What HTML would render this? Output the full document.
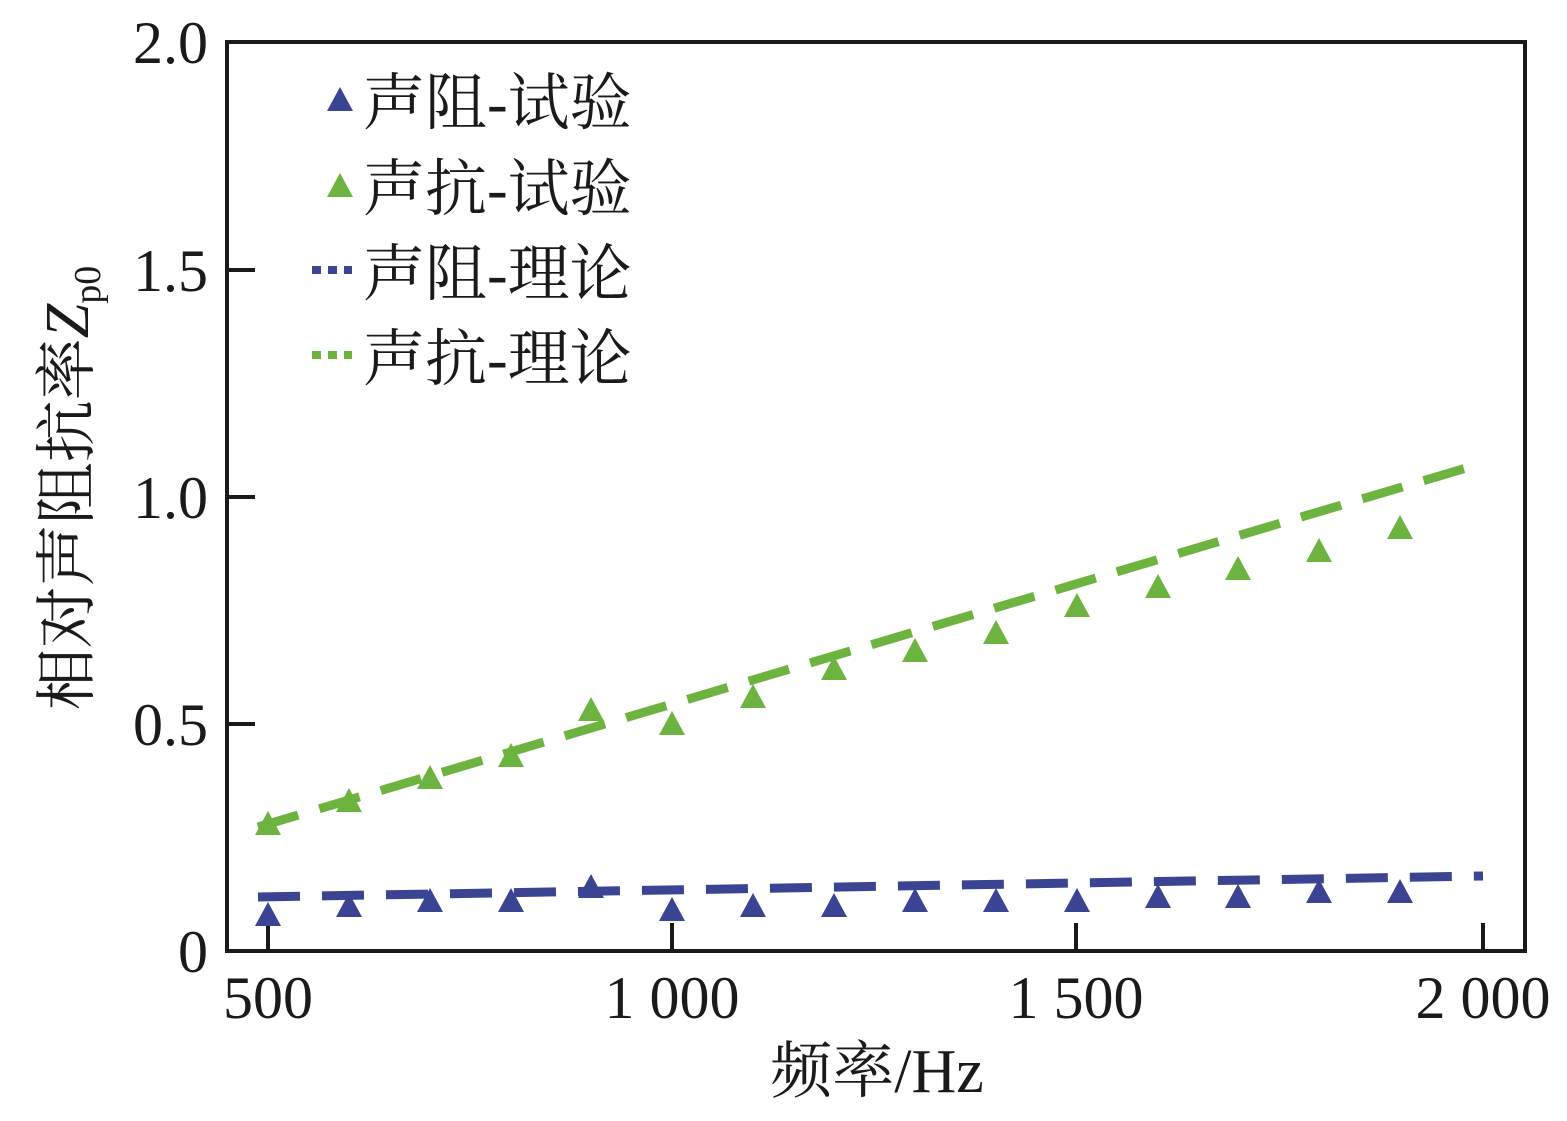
<!DOCTYPE html>
<html><head><meta charset="utf-8"><style>
html,body{margin:0;padding:0;background:#fff;}
text{font-family:"Liberation Serif","Noto Serif CJK SC",serif;fill:#1a1a1a;}
</style></head><body>
<svg width="1567" height="1116" viewBox="0 0 1567 1116" xmlns="http://www.w3.org/2000/svg">
<defs><path id="t" d="M0 -13 l13 24 h-26 z"/></defs>
<rect x="227" y="42" width="1298" height="909" fill="none" stroke="#1a1a1a" stroke-width="4"/>
<g stroke="#1a1a1a" stroke-width="4">
<line x1="227" y1="270" x2="255" y2="270"/><line x1="227" y1="497" x2="255" y2="497"/><line x1="227" y1="724" x2="255" y2="724"/>
<line x1="268" y1="951" x2="268" y2="923"/><line x1="672" y1="951" x2="672" y2="923"/><line x1="1076" y1="951" x2="1076" y2="923"/><line x1="1483" y1="951" x2="1483" y2="923"/>
</g>
<g font-size="60" text-anchor="end">
<text x="208" y="63">2.0</text><text x="208" y="291">1.5</text><text x="208" y="518">1.0</text><text x="208" y="745">0.5</text><text x="208" y="972">0</text>
</g>
<g font-size="60" text-anchor="middle">
<text x="268" y="1018">500</text><text x="672" y="1018">1 000</text><text x="1076" y="1018">1 500</text><text x="1483" y="1018">2 000</text>
</g>
<text x="877" y="1092" font-size="62" text-anchor="middle">频率/Hz</text>
<text transform="translate(88,488) rotate(-90)" font-size="62" text-anchor="middle">相对声阻抗率<tspan font-style="italic">Z</tspan><tspan font-size="38" dy="12">p0</tspan></text>
<line x1="258" y1="827" x2="1483" y2="463" stroke="#6db33f" stroke-width="9" stroke-dasharray="42,22"/>
<line x1="258" y1="897" x2="1483" y2="876" stroke="#3b4393" stroke-width="9" stroke-dasharray="42,22"/>
<g fill="#6db33f">
<use href="#t" x="268" y="824"/><use href="#t" x="349" y="801"/><use href="#t" x="430" y="778"/><use href="#t" x="511" y="756"/><use href="#t" x="591" y="710"/><use href="#t" x="672" y="724"/><use href="#t" x="753" y="697"/><use href="#t" x="834" y="669"/><use href="#t" x="915" y="651"/><use href="#t" x="996" y="633"/><use href="#t" x="1077" y="606"/><use href="#t" x="1158" y="587"/><use href="#t" x="1238" y="569"/><use href="#t" x="1319" y="551"/><use href="#t" x="1400" y="528"/>
</g>
<g fill="#3b4393">
<use href="#t" x="268" y="915"/><use href="#t" x="349" y="906"/><use href="#t" x="430" y="901"/><use href="#t" x="511" y="901"/><use href="#t" x="591" y="887"/><use href="#t" x="672" y="910"/><use href="#t" x="753" y="906"/><use href="#t" x="834" y="906"/><use href="#t" x="915" y="901"/><use href="#t" x="996" y="901"/><use href="#t" x="1077" y="901"/><use href="#t" x="1158" y="897"/><use href="#t" x="1238" y="897"/><use href="#t" x="1319" y="892"/><use href="#t" x="1400" y="892"/>
</g>
<g font-size="62">
<use href="#t" x="340" y="100" fill="#3b4393"/><text x="363" y="124">声阻-试验</text>
<use href="#t" x="340" y="186" fill="#6db33f"/><text x="363" y="210">声抗-试验</text>
<line x1="312" y1="270" x2="352" y2="270" stroke="#3b4393" stroke-width="8" stroke-dasharray="9,7"/><text x="363" y="295">声阻-理论</text>
<line x1="312" y1="355" x2="352" y2="355" stroke="#6db33f" stroke-width="8" stroke-dasharray="9,7"/><text x="363" y="380">声抗-理论</text>
</g>
</svg>
</body></html>
